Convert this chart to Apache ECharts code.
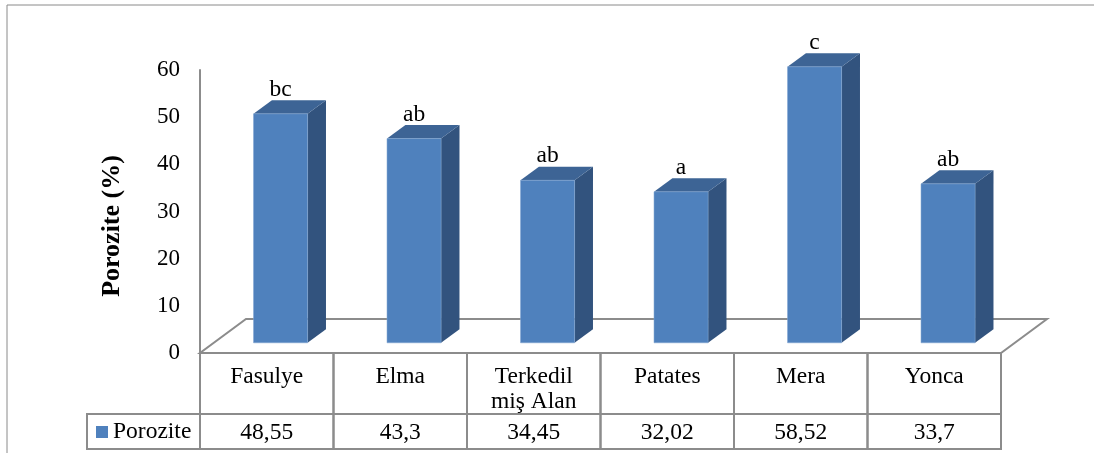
<!DOCTYPE html>
<html>
<head>
<meta charset="utf-8">
<script src="https://cdn.jsdelivr.net/npm/echarts@6/dist/echarts.min.js"></script>
<style>
  html, body { margin: 0; padding: 0; background: #fff; }
  #chart { width: 1094px; height: 453px; }
</style>
</head>
<body>
<div id="chart"></div>
<script>
// Porozite (%) by land use
const categories = ['Fasulye', 'Elma', 'Terkedil\nmiş Alan', 'Patates', 'Mera', 'Yonca'];
const porozite = [48.55, 43.3, 34.45, 32.02, 58.52, 33.7];
const groupLetters = ['bc', 'ab', 'ab', 'a', 'c', 'ab'];
const yTicks = { min: 0, max: 60, interval: 10 };
const seriesName = 'Porozite';
const axisTitle = 'Porozite (%)';

const FONT = "'Liberation Serif', 'Times New Roman', serif";
const FS = 23.5;
const LINE = '#8c8c8c';
const FRONT = '#4F81BD', TOP = '#3D6495', SIDE = '#32537E';

// depth of the 3D floor in pixels, and where the bars sit inside it
const DEPTH_X = 46, DEPTH_Y = -34;
const BAR_FRONT = 0.3, BAR_BACK = 0.7, BAR_WIDTH = 0.405;
const ROW1_H = 61, ROW2_H = 35, LEGEND_CELL_W = 113;

const fmt = v => String(v).replace('.', ',');

const chart = echarts.init(document.getElementById('chart'), null, { renderer: 'canvas' });

function floorItem(params, api) {
  const band = api.size([1, 0])[0];
  const p0 = api.coord([0, 0]);
  const L = p0[0] - band / 2, R = L + band * categories.length, y0 = p0[1];
  return {
    type: 'polygon',
    shape: { points: [[L, y0], [R, y0], [R + DEPTH_X, y0 + DEPTH_Y], [L + DEPTH_X, y0 + DEPTH_Y]] },
    style: { fill: 'none', stroke: LINE, lineWidth: 2 }
  };
}

function barItem(params, api) {
  const i = api.value(0), v = api.value(1);
  const band = api.size([1, 0])[0];
  const base = api.coord([i, 0]);
  const topPt = api.coord([i, v]);
  const bw = band * BAR_WIDTH;
  const fx = DEPTH_X * BAR_FRONT, fy = DEPTH_Y * BAR_FRONT;
  const dx = DEPTH_X * (BAR_BACK - BAR_FRONT), dy = DEPTH_Y * (BAR_BACK - BAR_FRONT);
  const x0 = base[0] - bw / 2 + fx, x1 = x0 + bw;
  const yb = base[1] + fy, yt = topPt[1] + fy;
  return {
    type: 'group',
    children: [
      { type: 'polygon', shape: { points: [[x1, yt], [x1 + dx, yt + dy], [x1 + dx, yb + dy], [x1, yb]] },
        style: { fill: SIDE } },
      { type: 'polygon', shape: { points: [[x0, yt], [x1, yt], [x1 + dx, yt + dy], [x0 + dx, yt + dy]] },
        style: { fill: TOP } },
      { type: 'rect', shape: { x: x0, y: yt, width: bw, height: yb - yt },
        style: { fill: FRONT, stroke: 'rgba(130,165,210,0.55)', lineWidth: 1 } },
      { type: 'text', x: x0 + bw / 2, y: yt - 24,
        style: { text: groupLetters[params.dataIndex], fill: '#000', font: FS + 'px ' + FONT,
                 align: 'center', verticalAlign: 'middle' } }
    ]
  };
}

function tableItem(params, api) {
  const i = api.value(0), v = api.value(1);
  const band = api.size([1, 0])[0];
  const c = api.coord([i, 0]);
  const L = c[0] - band / 2, y0 = c[1];
  const line = { fill: 'none', stroke: LINE, lineWidth: 2 };
  const children = [
    { type: 'rect', shape: { x: L, y: y0, width: band, height: ROW1_H }, style: line },
    { type: 'rect', shape: { x: L, y: y0 + ROW1_H, width: band, height: ROW2_H }, style: line },
    { type: 'text', x: c[0], y: y0 + ROW1_H + ROW2_H / 2 + 1,
      style: { text: fmt(v), fill: '#000', font: FS + 'px ' + FONT, align: 'center', verticalAlign: 'middle' } }
  ];
  if (params.dataIndex === 0) {
    children.push({ type: 'rect', shape: { x: L - LEGEND_CELL_W, y: y0 + ROW1_H, width: LEGEND_CELL_W, height: ROW2_H },
                    style: line });
  }
  return { type: 'group', children };
}

const points = porozite.map((v, i) => [i, v]);

chart.setOption({
  animation: false,
  backgroundColor: '#fff',
  grid: { left: 200, right: 93, top: 70, bottom: 100 },
  xAxis: {
    type: 'category',
    data: categories,
    axisLine: { show: true, lineStyle: { color: LINE, width: 2 } },
    axisTick: { show: false },
    splitLine: { show: false },
    axisLabel: { color: '#000', fontSize: FS, fontFamily: FONT, margin: 11, lineHeight: 25 }
  },
  yAxis: {
    type: 'value',
    min: yTicks.min, max: yTicks.max, interval: yTicks.interval,
    axisLine: { show: true, lineStyle: { color: LINE, width: 2 } },
    axisTick: { show: false },
    splitLine: { show: false },
    axisLabel: { color: '#000', fontSize: 23, fontFamily: FONT, margin: 20, padding: [3, 0, 0, 0] }
  },
  legend: {
    data: [seriesName],
    left: 96, top: 420, padding: 0,
    icon: 'rect', itemWidth: 12, itemHeight: 12,
    textStyle: { color: '#000', fontSize: FS, fontFamily: FONT }
  },
  graphic: [
    { type: 'rect', z: -10, shape: { x: 7, y: 5, width: 1200, height: 600 },
      style: { fill: 'none', stroke: '#8a8a8a', lineWidth: 1 } },
    { type: 'text', x: 112, y: 226, rotation: Math.PI / 2,
      style: { text: axisTitle, fill: '#000', font: 'bold 26px ' + FONT, align: 'center', verticalAlign: 'middle' } }
  ],
  series: [
    { type: 'custom', name: 'floor', z: 1, silent: true, renderItem: floorItem, data: [[0]] },
    { type: 'custom', name: seriesName, z: 2, renderItem: barItem, data: points,
      itemStyle: { color: FRONT }, encode: { x: 0, y: 1 } },
    { type: 'custom', name: 'table', z: 3, silent: true, renderItem: tableItem, data: points,
      encode: { x: 0, y: 1 } }
  ]
});
</script>
</body>
</html>
